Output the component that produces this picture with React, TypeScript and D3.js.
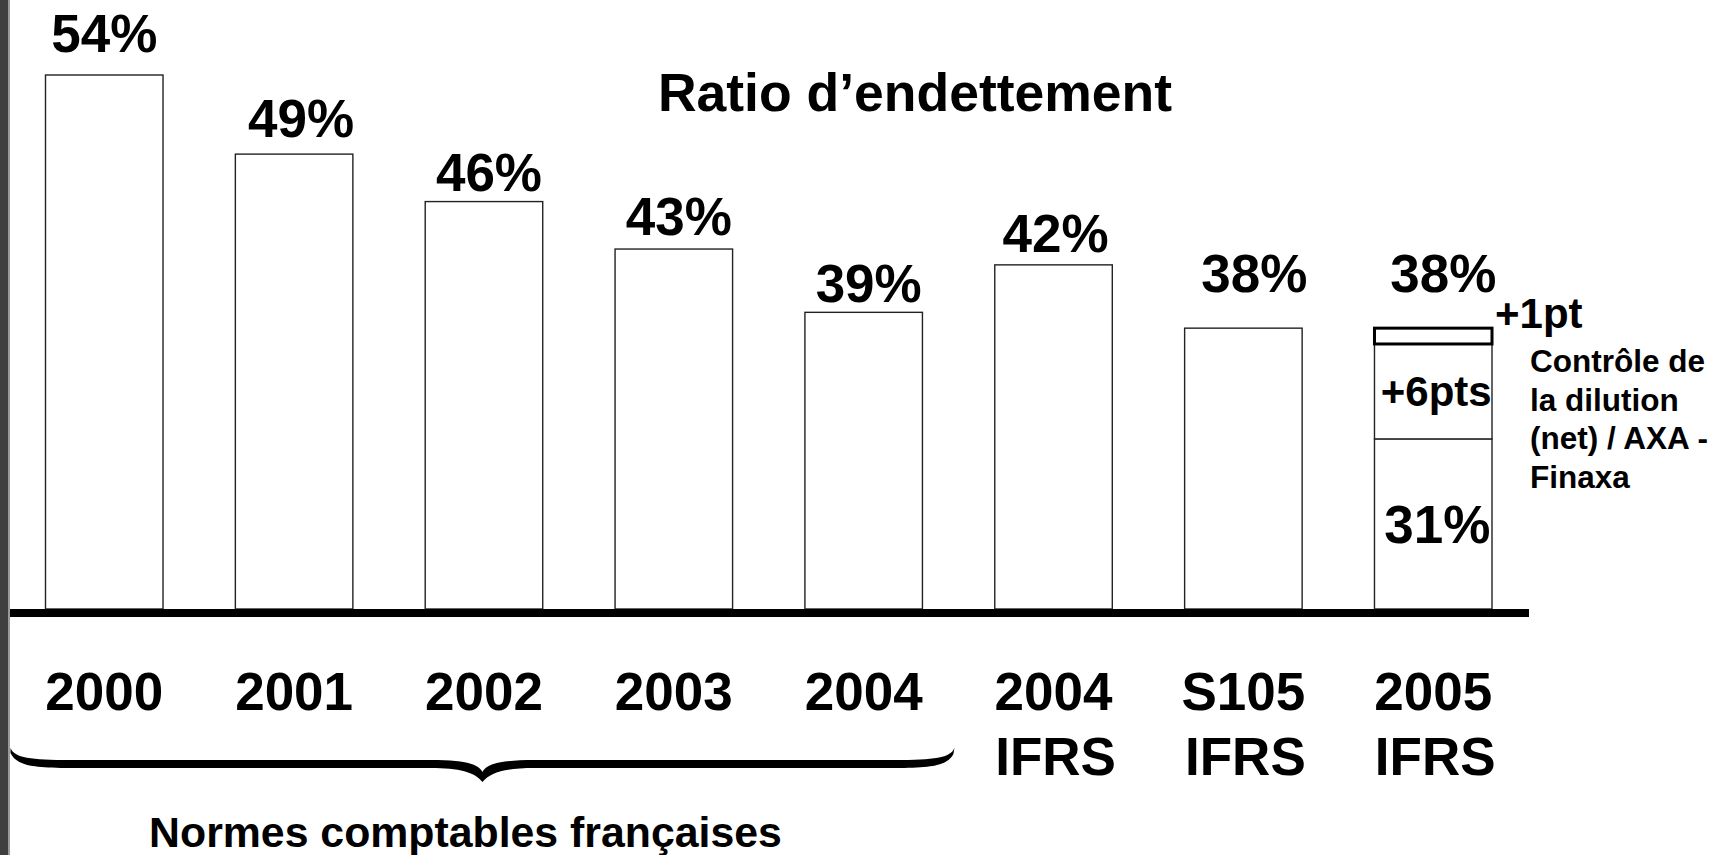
import React from "react";
import * as d3 from "d3";

// ---- data ----
const yearLabels = ["2000", "2001", "2002", "2003", "2004", "2004", "S105", "2005"];
const standardLabels = ["", "", "", "", "", "IFRS", "IFRS", "IFRS"];
const values = [54, 49, 46, 43, 39, 42, 38, 38];
const stackParts = [31, 6, 1];
const stackLabels = ["31%", "+6pts", "+1pt"];
const noteLines = ["Contrôle de", "la dilution", "(net) / AXA -", "Finaxa"];
const title = "Ratio d’endettement";
const braceLabel = "Normes comptables françaises";
const braceSpan = [0, 4];

const W = 1728;
const H = 855;
const FONT = "'Liberation Sans', Arial, Helvetica, sans-serif";

export default function App() {
  const cats = yearLabels.map((yl, i) => `${yl} ${standardLabels[i]}`.trim() + "#" + i);
  const x = d3.scaleBand<string>().domain(cats).range([45.5, 1492]).paddingInner(0.381).paddingOuter(0);
  const y = d3.scaleLinear().domain([20.25, 54]).range([609, 75]);
  const bw = x.bandwidth();
  const base = y(y.domain()[0]);

  // layout nudges for value labels (baseline offset above the bar, horizontal shift)
  const labelDy = [-23, -17, -11, -14, -10, -13, -36, -36];
  const labelDx = [0, 7, 5, 5, 5, 2, 11, 10];

  const last = values.length - 1;
  const lastX = x(cats[last])!;
  let acc = 0;
  const segs = stackParts.map((v) => {
    const s = { y0: acc, y1: acc + v };
    acc += v;
    return s;
  });
  const segTop = (s: { y0: number; y1: number }) => y(s.y1);
  const segBottom = (s: { y0: number; y1: number }, j: number) => (j === 0 ? base : y(s.y0));

  const bx0 = x(cats[braceSpan[0]])! - 35;
  const bx1 = x(cats[braceSpan[1]])! + bw + 32;
  const bc = (bx0 + bx1) / 2;
  const bt = 748;
  const bracePath = [
    `M ${bx0},${bt}`,
    `C ${bx0 + 4},${bt + 10} ${bx0 + 20},${bt + 12} ${bx0 + 60},${bt + 12}`,
    `L ${bc - 52},${bt + 12}`,
    `C ${bc - 17},${bt + 12} ${bc - 4},${bt + 16} ${bc},${bt + 24}`,
    `C ${bc + 4},${bt + 16} ${bc + 17},${bt + 12} ${bc + 52},${bt + 12}`,
    `L ${bx1 - 60},${bt + 12}`,
    `C ${bx1 - 20},${bt + 12} ${bx1 - 4},${bt + 10} ${bx1},${bt}`,
    `L ${bx1 - 1},${bt + 6}`,
    `C ${bx1 - 7},${bt + 17} ${bx1 - 20},${bt + 20} ${bx1 - 60},${bt + 20}`,
    `L ${bc + 52},${bt + 20}`,
    `C ${bc + 23},${bt + 20} ${bc + 8},${bt + 24} ${bc},${bt + 34}`,
    `C ${bc - 8},${bt + 24} ${bc - 23},${bt + 20} ${bc - 52},${bt + 20}`,
    `L ${bx0 + 60},${bt + 20}`,
    `C ${bx0 + 20},${bt + 20} ${bx0 + 6},${bt + 17} ${bx0},${bt + 5}`,
    "Z",
  ].join(" ");

  return (
    <svg
      width={W}
      height={H}
      viewBox={`0 0 ${W} ${H}`}
      style={{ position: "absolute", left: 0, top: 0, display: "block", background: "#fff" }}
      fontFamily={FONT}
      fontWeight="bold"
    >
      <rect x={0} y={0} width={W} height={H} fill="#fff" />
      <rect x={0} y={0} width={8} height={H} fill="#3f3f3f" />
      <rect x={8} y={0} width={2} height={H} fill="#9a9a9a" />

      <text x={915} y={111} fontSize={53.5} textAnchor="middle" fill="#000">
        {title}
      </text>

      {values.map((v, i) =>
        i === last ? null : (
          <rect
            key={cats[i]}
            x={x(cats[i])}
            y={y(v)}
            width={bw}
            height={base - y(v)}
            fill="#fff"
            stroke="#222"
            strokeWidth={1.4}
          />
        )
      )}

      {segs.map((s, j) => (
        <rect
          key={"seg" + j}
          x={lastX}
          y={segTop(s)}
          width={bw}
          height={segBottom(s, j) - segTop(s)}
          fill="#fff"
          stroke={j === 2 ? "#000" : "#222"}
          strokeWidth={j === 2 ? 3 : 1.4}
        />
      ))}

      {values.map((v, i) => (
        <text
          key={"lab" + i}
          x={x(cats[i])! + bw / 2 + labelDx[i]}
          y={y(v) + labelDy[i]}
          fontSize={53}
          textAnchor="middle"
          fill="#000"
        >
          {`${v}%`}
        </text>
      ))}

      <text x={lastX + bw / 2 + 4} y={(base + segTop(segs[0])) / 2 + 19} fontSize={53} textAnchor="middle">
        {stackLabels[0]}
      </text>
      <text x={lastX + bw / 2 + 3} y={(segBottom(segs[1], 1) + segTop(segs[1])) / 2 + 15} fontSize={42} textAnchor="middle">
        {stackLabels[1]}
      </text>
      <text x={lastX + bw + 3} y={328} fontSize={42} textAnchor="start">
        {stackLabels[2]}
      </text>
      {noteLines.map((t, k) => (
        <text key={"n" + k} x={1530} y={372 + k * 38.5} fontSize={31.5} textAnchor="start">
          {t}
        </text>
      ))}

      <rect x={10} y={609} width={1519} height={8} fill="#000" />

      {yearLabels.map((t, i) => (
        <g key={"yl" + i}>
          <text x={x(cats[i])! + bw / 2} y={710} fontSize={53} textAnchor="middle">
            {t}
          </text>
          {standardLabels[i] ? (
            <text x={x(cats[i])! + bw / 2 + 2} y={775} fontSize={53} textAnchor="middle">
              {standardLabels[i]}
            </text>
          ) : null}
        </g>
      ))}

      <path d={bracePath} fill="#000" />
      <text x={bc - 17} y={847} fontSize={42.8} textAnchor="middle">
        {braceLabel}
      </text>
    </svg>
  );
}
